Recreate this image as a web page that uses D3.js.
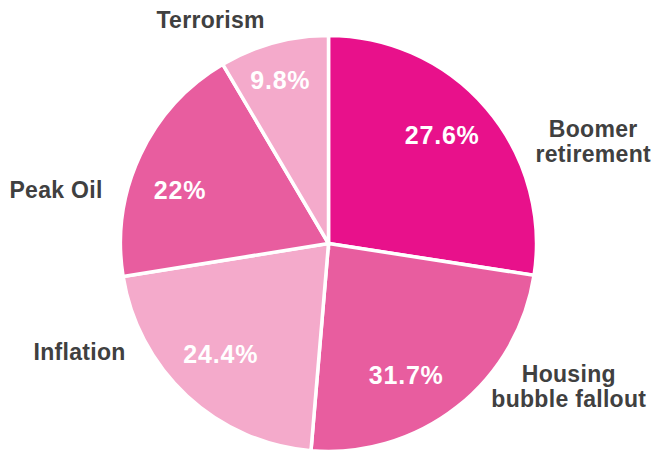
<!DOCTYPE html>
<html>
<head>
<meta charset="utf-8">
<script src="https://cdn.jsdelivr.net/npm/d3@7"></script>
<style>
  body { margin: 0; background: #fff; }
  text { font-family: "Liberation Sans", Arial, sans-serif; font-weight: bold; }
</style>
</head>
<body>
<svg id="pie" width="655" height="451"></svg>
<script>
// values as printed on the chart
const categories = ["Boomer retirement", "Housing bubble fallout", "Inflation", "Peak Oil", "Terrorism"];
const values = [27.6, 31.7, 24.4, 22, 9.8];

// slice colours, clockwise from 12 o'clock
const sliceColors = ["#e8118b", "#e85d9f", "#f4aacb", "#e85d9f", "#f4aacb"];

// where the labels sit (degrees clockwise from top, fraction of radius)
const nameAngles = [68.8, 120.8, 246.5, 281.1, 332.2];
const nameRadii = [1.365, 1.345, 1.305, 1.335, 1.215];
const pctAngles = [46.4, 149.5, 224.2, 289.9, 343.6];
const pctRadii = [0.755, 0.736, 0.743, 0.759, 0.821];

(function() {
  const cx = 328.5, cy = 243.5, radius = 208;

  const data = categories.map((c, i) => ({ name: c, value: values[i] }));

  const svg = d3.select("#pie");
  const chart = svg.append("g")
    .attr("transform", "translate(" + cx + "," + cy + ")");

  // default d3 pie sorts biggest first
  const pie = d3.pie().value(d => d.value);
  const arcs = pie(data).sort((a, b) => a.startAngle - b.startAngle);

  const arc = d3.arc().innerRadius(0).outerRadius(radius);

  chart.selectAll("path")
    .data(arcs)
    .join("path")
      .attr("d", arc)
      .attr("fill", (d, i) => sliceColors[i])
      .attr("stroke", "#fff")
      .attr("stroke-width", 3.5)
      .attr("stroke-linejoin", "miter");

  const rad = deg => deg * Math.PI / 180;

  // percentage labels inside the slices (label i drawn in i-th slice)
  const pctSize = 25;
  chart.selectAll("text.pct")
    .data(data)
    .join("text")
      .attr("class", "pct")
      .each(function(d, i) {
        const p = d3.pointRadial(rad(pctAngles[i]), radius * pctRadii[i]);
        d3.select(this)
          .attr("x", p[0])
          .attr("y", p[1] + pctSize * 0.716 / 2);
      })
      .attr("text-anchor", "middle")
      .attr("font-size", pctSize)
      .attr("letter-spacing", 0.8)
      .attr("fill", "#fff")
      .text(d => d.value + "%");

  // category names outside
  const nameSize = 23, lineH = 25;
  const splitName = {
    "Boomer retirement": ["Boomer", "retirement"],
    "Housing bubble fallout": ["Housing", "bubble fallout"]
  };
  chart.selectAll("text.name")
    .data(data)
    .join("text")
      .attr("class", "name")
      .attr("text-anchor", "middle")
      .attr("font-size", nameSize)
      .attr("letter-spacing", 0.3)
      .attr("fill", "#404040")
      .each(function(d, i) {
        const lines = splitName[d.name] || [d.name];
        const p = d3.pointRadial(rad(nameAngles[i]), radius * nameRadii[i]);
        const y0 = p[1] - (lines.length - 1) * lineH / 2 + nameSize * 0.716 / 2;
        d3.select(this).selectAll("tspan")
          .data(lines)
          .join("tspan")
            .attr("x", p[0])
            .attr("y", (l, j) => y0 + j * lineH)
            .text(l => l);
      });
})();
</script>
</body>
</html>
